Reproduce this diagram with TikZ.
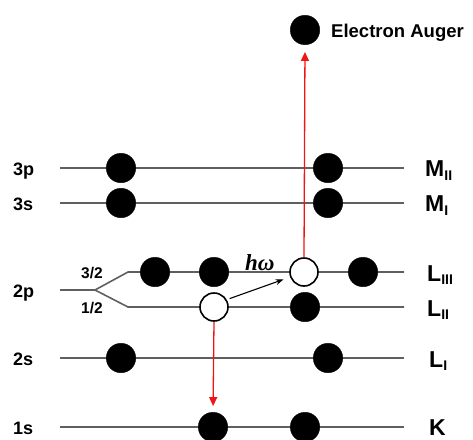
\documentclass[tikz,border=0pt]{standalone}
\usepackage{fontspec}
\setmainfont{Liberation Sans}
\newfontfamily\serifface{Liberation Serif}
\usetikzlibrary{arrows.meta}
\definecolor{levelgray}{RGB}{95,95,95}
\definecolor{arrowred}{RGB}{240,20,20}
\begin{document}
\begin{tikzpicture}[x=1pt,y=-1pt,
  level/.style={draw=levelgray, line width=1.6pt},
  el/.style={circle, fill=black, draw=black, minimum size=29.5pt, inner sep=0pt},
  hole/.style={circle, fill=white, draw=black, line width=1.6pt, minimum size=28pt, inner sep=0pt},
  leftlbl/.style={anchor=base west, inner sep=0pt, font=\fontsize{18}{18}\selectfont\bfseries},
  fraclbl/.style={anchor=base west, inner sep=0pt, font=\fontsize{15.5}{15.5}\selectfont\bfseries},
  rightlbl/.style={anchor=base west, inner sep=0pt, font=\fontsize{23}{23}\selectfont\bfseries},
  redarrow/.style={draw=arrowred, line width=1.3pt, -{Triangle[length=9pt,width=8pt]}},
  blackarrow/.style={draw=black, line width=1.1pt, -{Stealth[length=8pt,width=6pt]}}]
\newcommand{\shellsub}[1]{\raisebox{-3.5pt}{\fontsize{14}{14}\selectfont\bfseries #1}}
\useasboundingbox (0,0) rectangle (473,439);

% level lines
\coordinate (m2a) at (60,168);  \coordinate (m2b) at (404,168);
\coordinate (m1a) at (60,203);  \coordinate (m1b) at (404,203);
\coordinate (sa) at (60,290);   \coordinate (sb) at (95,290);
\coordinate (l3a) at (128,272); \coordinate (l3b) at (404,272);
\coordinate (l2a) at (128,307); \coordinate (l2b) at (404,307);
\coordinate (l1a) at (60,358);  \coordinate (l1b) at (404,358);
\coordinate (ka) at (60,427);   \coordinate (kb) at (404,427);
\draw[level] (m2a) -- (m2b);
\draw[level] (m1a) -- (m1b);
\draw[level] (sa) -- (sb) -- (l3a) -- (l3b);
\draw[level] (sb) -- (l2a) -- (l2b);
\draw[level] (l1a) -- (l1b);
\draw[level] (ka) -- (kb);

% electrons
\node[el] (e31) at (121,168) {};
\node[el] (e32) at (328,168) {};
\node[el] (e33) at (121,203) {};
\node[el] (e34) at (328,203) {};
\node[el] (e21) at (155,272) {};
\node[el] (e22) at (214,272) {};
\node[hole] (h1) at (304,272) {};
\node[el] (e23) at (363,272) {};
\node[hole] (h2) at (214,307) {};
\node[el] (e24) at (305,307) {};
\node[el] (e25) at (121,358) {};
\node[el] (e26) at (328,358) {};
\node[el] (k1) at (213,427) {};
\node[el] (k2) at (305,427) {};
\node[el] (auger) at (305,30) {};

% transitions
\draw[redarrow, shorten >=7pt] (h1.north) -- (auger.south);
\draw[redarrow, shorten >=6pt] (h2.south) -- (k1.north);
\draw[blackarrow, shorten <=3pt, shorten >=7pt] (h2.30) -- (h1.200);

% labels
\node[anchor=base west, inner sep=0pt, font=\fontsize{18.5}{18.5}\selectfont\bfseries] (augerlbl) at (331,37) {Electron Auger};
\node[anchor=base west, inner sep=0pt, font=\fontsize{23}{23}\selectfont\serifface\bfseries\itshape] (hw) at (245,270) {hω};

\node[leftlbl] (t3p) at (13,175) {3p};
\node[leftlbl] (t3s) at (13,210) {3s};
\node[leftlbl] (t2p) at (13,297) {2p};
\node[leftlbl] (t2s) at (13,365) {2s};
\node[leftlbl] (t1s) at (13,434) {1s};
\node[fraclbl] (t32) at (81,278) {3/2};
\node[fraclbl] (t12) at (81,313) {1/2};

\node[rightlbl] (rm2) at (425,176.5) {M\shellsub{II}};
\node[rightlbl] (rm1) at (425,211.5) {M\shellsub{I}};
\node[rightlbl] (rl3) at (427,281) {L\shellsub{III}};
\node[rightlbl] (rl2) at (427,316) {L\shellsub{II}};
\node[rightlbl] (rl1) at (429,367) {L\shellsub{I}};
\node[rightlbl] (rk) at (429,435) {K};
\end{tikzpicture}
\end{document}
